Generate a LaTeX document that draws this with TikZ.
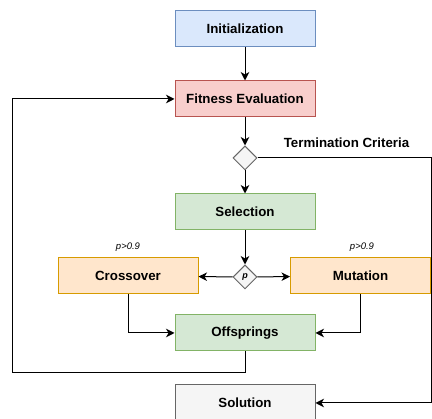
\documentclass[tikz,border=0pt]{standalone}
\usepackage{fontspec}
\setmainfont{Liberation Sans}
\usetikzlibrary{arrows.meta,shapes.geometric}
\definecolor{blueF}{HTML}{DAE8FC}\definecolor{blueD}{HTML}{6C8EBF}
\definecolor{redF}{HTML}{F8CECC}\definecolor{redD}{HTML}{B85450}
\definecolor{greenF}{HTML}{D5E8D4}\definecolor{greenD}{HTML}{82B366}
\definecolor{orangeF}{HTML}{FFE6CC}\definecolor{orangeD}{HTML}{D79B00}
\definecolor{grayF}{HTML}{F5F5F5}\definecolor{grayD}{HTML}{666666}
\tikzset{
  box/.style={draw,line width=1pt,minimum width=140pt,minimum height=36pt,inner sep=0pt,
    font=\fontsize{13.3}{15}\selectfont\bfseries},
  decide/.style={draw=grayD,fill=grayF,diamond,line width=1pt,minimum width=24pt,minimum height=24pt,inner sep=0pt},
  link/.style={line width=1pt,-{Stealth[length=8.5pt,width=8.5pt,inset=2.5pt]}}
}
\begin{document}
\begin{tikzpicture}[x=1pt,y=-1pt]
  \useasboundingbox[fill=white] (0,0) rectangle (432,419);
  \node[box,fill=blueF,draw=blueD] (init) at (245,29) {Initialization};
  \node[box,fill=redF,draw=redD] (fit) at (245,99) {Fitness Evaluation};
  \node[decide] (term) at (245,158) {};
  \node[box,fill=greenF,draw=greenD] (sel) at (245,212) {Selection};
  \node[decide] (prob) at (245,277) {\fontsize{9}{10}\selectfont\bfseries\itshape p};
  \node[box,fill=orangeF,draw=orangeD] (cross) at (128,276) {Crossover};
  \node[box,fill=orangeF,draw=orangeD] (mut) at (360.5,276) {Mutation};
  \node[box,fill=greenF,draw=greenD] (off) at (245,333) {Offsprings};
  \node[box,fill=grayF,draw=grayD] (sol) at (245,403) {Solution};
  \node[font=\fontsize{13.3}{15}\selectfont\bfseries] (tlabel) at (346.5,143) {Termination Criteria};
  \node[font=\fontsize{9.5}{11}\selectfont\itshape] (pc) at (128,247) {p>0.9};
  \node[font=\fontsize{9.5}{11}\selectfont\itshape] (pm) at (362,247) {p>0.9};
  \coordinate (edge) at (431.5,158);
  \coordinate (loop) at (12,373);
  % main flow
  \draw[link] (init) -- (fit);
  \draw[link] (fit) -- (term);
  \draw[link] (term) -- (sel);
  \draw[link] (sel) -- (prob);
  \draw[link] (prob) -- (cross);
  \draw[link] (prob) -- (mut);
  \draw[link] (cross.south) |- (off.west);
  \draw[link] (mut.south) |- (off.east);
  % back to evaluation
  \draw[link] (off.south) |- (loop) |- (fit.west);
  \draw[link] (term.east) -- (edge) |- (sol.east);
\end{tikzpicture}
\end{document}
